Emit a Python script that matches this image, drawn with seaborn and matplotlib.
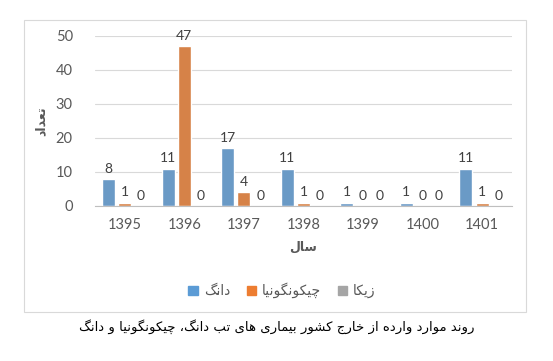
# Data
import pandas as pd
import numpy as np

# Visualization
import matplotlib
matplotlib.use("Agg")
import matplotlib.pyplot as plt
from matplotlib.patches import Rectangle
import seaborn as sns

years = ["1395", "1396", "1397", "1398", "1399", "1400", "1401"]
dengue = [8, 11, 17, 11, 1, 1, 11]
chikungunya = [1, 47, 4, 1, 0, 0, 1]
zika = [0, 0, 0, 0, 0, 0, 0]

series_names = ["دانگ", "چیکونگونیا", "زیکا"]
colors = ["#5b9bd5", "#ed7d31", "#a5a5a5"]
y_label = "تعداد"
x_label = "سال"
caption = "روند موارد وارده از خارج کشور بیماری های تب دانگ، چیکونگونیا و دانگ"

# Arabic/Persian contextual forms: (isolated, final, initial, medial)
FORMS = {
    "ا": ("\uFE8D", "\uFE8E", None, None),
    "ب": ("\uFE8F", "\uFE90", "\uFE91", "\uFE92"),
    "ت": ("\uFE95", "\uFE96", "\uFE97", "\uFE98"),
    "ج": ("\uFE9D", "\uFE9E", "\uFE9F", "\uFEA0"),
    "خ": ("\uFEA5", "\uFEA6", "\uFEA7", "\uFEA8"),
    "د": ("\uFEA9", "\uFEAA", None, None),
    "ر": ("\uFEAD", "\uFEAE", None, None),
    "ز": ("\uFEAF", "\uFEB0", None, None),
    "س": ("\uFEB1", "\uFEB2", "\uFEB3", "\uFEB4"),
    "ش": ("\uFEB5", "\uFEB6", "\uFEB7", "\uFEB8"),
    "ع": ("\uFEC9", "\uFECA", "\uFECB", "\uFECC"),
    "ل": ("\uFEDD", "\uFEDE", "\uFEDF", "\uFEE0"),
    "م": ("\uFEE1", "\uFEE2", "\uFEE3", "\uFEE4"),
    "ن": ("\uFEE5", "\uFEE6", "\uFEE7", "\uFEE8"),
    "ه": ("\uFEE9", "\uFEEA", "\uFEEB", "\uFEEC"),
    "و": ("\uFEED", "\uFEEE", None, None),
    "ی": ("\uFBFC", "\uFBFD", "\uFBFE", "\uFBFF"),
    "ک": ("\uFB8E", "\uFB8F", "\uFB90", "\uFB91"),
    "گ": ("\uFB92", "\uFB93", "\uFB94", "\uFB95"),
    "چ": ("\uFB7A", "\uFB7B", "\uFB7C", "\uFB7D"),
}


def shape(text):
    # join letters, then reverse for right-to-left display
    out = []
    for i, ch in enumerate(text):
        if ch not in FORMS:
            out.append(ch)
            continue
        prev = text[i - 1] if i > 0 else ""
        nxt = text[i + 1] if i + 1 < len(text) else ""
        join_prev = prev in FORMS and FORMS[prev][2] is not None
        join_next = FORMS[ch][2] is not None and nxt in FORMS
        iso, fin, ini, med = FORMS[ch]
        if join_prev and join_next:
            out.append(med)
        elif join_prev:
            out.append(fin)
        elif join_next:
            out.append(ini)
        else:
            out.append(iso)
    return "".join(out)[::-1]


labels = [shape(s) for s in series_names]
df = pd.DataFrame({
    "year": years * 3,
    "value": dengue + chikungunya + zika,
    "series": [labels[0]] * 7 + [labels[1]] * 7 + [labels[2]] * 7,
})

sns.set_style("white")
plt.rcParams["font.family"] = ["Lato", "DejaVu Sans"]

fig = plt.figure(figsize=(5.53, 3.61), dpi=100)
# outer chart frame
fig.patches.append(Rectangle((0.0434, 0.1357), 0.9076, 0.809, transform=fig.transFigure,
                             fill=False, edgecolor="#d9d9d9", linewidth=0.8))
ax = fig.add_axes([0.1718, 0.4294, 0.754, 0.4709])

sns.barplot(data=df, x="year", y="value", hue="series", palette=colors,
            width=0.82, gap=0.2, ax=ax, legend=False)

for cont in ax.containers:
    ax.bar_label(cont, fmt="%d", padding=3, fontsize=10, color="#404040")

ax.set_ylim(0, 50)
ax.set_yticks(np.arange(0, 51, 10))
ax.yaxis.grid(True, color="#d9d9d9", linewidth=0.8)
ax.set_axisbelow(True)
for side in ["top", "right", "left"]:
    ax.spines[side].set_visible(False)
ax.spines["bottom"].set_color("#bfbfbf")
ax.tick_params(axis="both", length=0, labelsize=10.5, labelcolor="#595959")
ax.tick_params(axis="y", pad=16)
ax.tick_params(axis="x", pad=9)

ax.set_ylabel(shape(y_label), fontsize=9, fontweight="bold", color="#595959",
              family="DejaVu Sans", labelpad=6)
ax.set_xlabel(shape(x_label), fontsize=9, fontweight="bold", color="#595959",
              family="DejaVu Sans", labelpad=6)

handles = [Rectangle((0, 0), 1, 1, color=c) for c in colors]
fig.legend(handles, labels, loc="center", bbox_to_anchor=(0.51, 0.195), ncol=3,
           frameon=False, handlelength=0.7, handleheight=0.7,
           handletextpad=0.4, columnspacing=1.2, labelcolor="#595959",
           prop={"family": "DejaVu Sans", "size": 10})

fig.text(0.5, 0.095, shape(caption), ha="center", va="center", fontsize=9.5,
         family="DejaVu Sans", color="black")

fig.savefig("out.png", dpi=100)
